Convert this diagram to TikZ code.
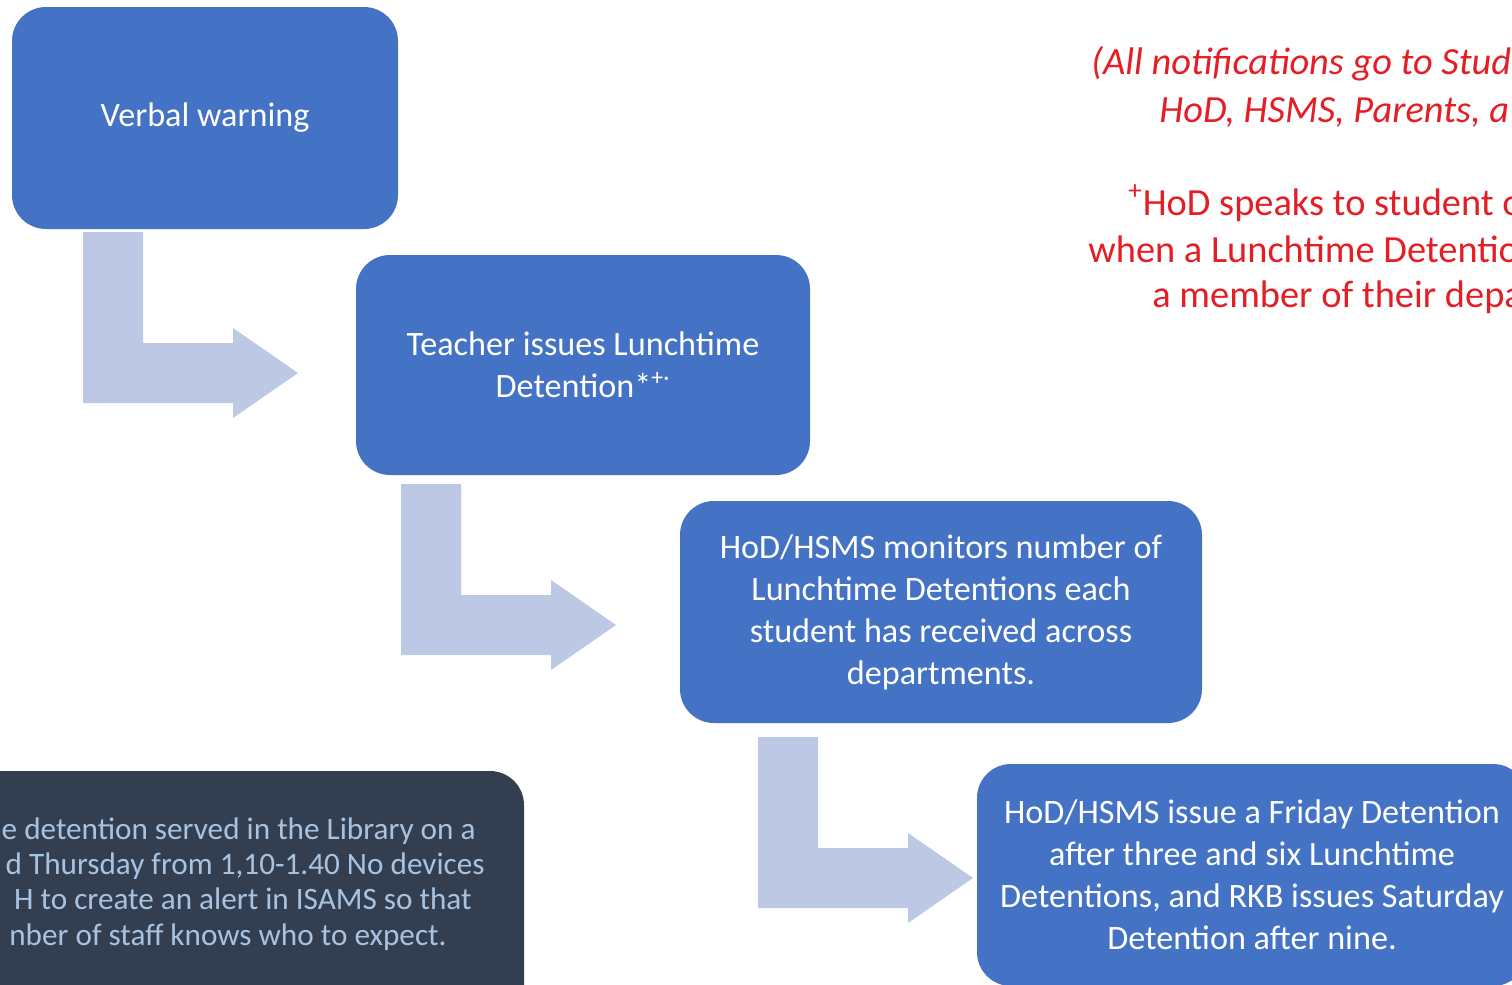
\documentclass[tikz,border=0pt]{standalone}
\usepackage{fontspec}
\setmainfont{Carlito}
\definecolor{boxblue}{RGB}{68,114,196}
\definecolor{arrowcol}{RGB}{188,200,228}
\definecolor{darkbox}{RGB}{51,63,80}
\definecolor{darktext}{RGB}{168,194,226}
\definecolor{notered}{RGB}{228,30,36}
\tikzset{
  stepbox/.style={fill=boxblue, rounded corners=17pt, text=white, align=center,
    font=\fontsize{17.1}{21}\selectfont, inner sep=0pt},
  bentarrow/.style={fill=arrowcol, draw=none},
  darkline/.style={text=darktext, font=\fontsize{15.6}{17.5}\selectfont, inner sep=0pt, anchor=base east},
  noteline/.style={text=notered, font=\fontsize{19.2}{23.5}\selectfont, inner sep=0pt, anchor=base west}
}
\begin{document}
\begin{tikzpicture}[x=0.5pt, y=-0.5pt]
\useasboundingbox (0,0) rectangle (1512,985);
\clip (0,0) rectangle (1512,985);
\fill[white] (0,0) rectangle (1512,985);

% step boxes
\node[stepbox, minimum width=193pt, minimum height=111pt] (b1) at (205,118) {Verbal warning};
\node[stepbox, minimum width=227pt, minimum height=110pt] (b2) at (583,365) {Teacher issues Lunchtime\\Detention*\textsuperscript{+·}};
\node[stepbox, minimum width=261pt, minimum height=111pt] (b3) at (941,612) {HoD/HSMS monitors number of\\Lunchtime Detentions each\\student has received across\\departments.};
\node[stepbox, minimum width=275pt, minimum height=111pt] (b4) at (1252,875) {HoD/HSMS issue a Friday Detention\\after three and six Lunchtime\\Detentions, and RKB issues Saturday\\Detention after nine.};

% bent arrows
\foreach \dx/\dy in {0/0, 318/252, 675/505}{
  \fill[bentarrow, shift={(\dx*0.5pt,-\dy*0.5pt)}]
    (83,232) -- (143,232) -- (143,343) -- (233,343) -- (233,328) -- (298,373)
    -- (233,418) -- (233,403) -- (83,403) -- cycle;
}

% dark note box
\fill[darkbox, rounded corners=17pt] (-120,771) rectangle (524,1120);
\node[darkline] (d1) at (476,839) {e detention served in the Library on a};
\node[darkline] (d2) at (485,874) {d Thursday from 1,10-1.40 No devices};
\node[darkline] (d3) at (472,909) {H to create an alert in ISAMS so that};
\node[darkline] (d4) at (447,945) {nber of staff knows who to expect.};

% red notes
\node[noteline, font=\fontsize{19.2}{23.5}\selectfont\itshape] (n1) at (1091,75) {(All notifications go to Stud};
\node[noteline, font=\fontsize{19.2}{23.5}\selectfont\itshape] (n2) at (1159,122) {HoD, HSMS, Parents, a};
\node[noteline] (n3) at (1128,215) {\textsuperscript{+}HoD speaks to student o};
\node[noteline] (n4) at (1088,262) {when a Lunchtime Detentio};
\node[noteline] (n5) at (1152,307) {a member of their depa};
\end{tikzpicture}
\end{document}
